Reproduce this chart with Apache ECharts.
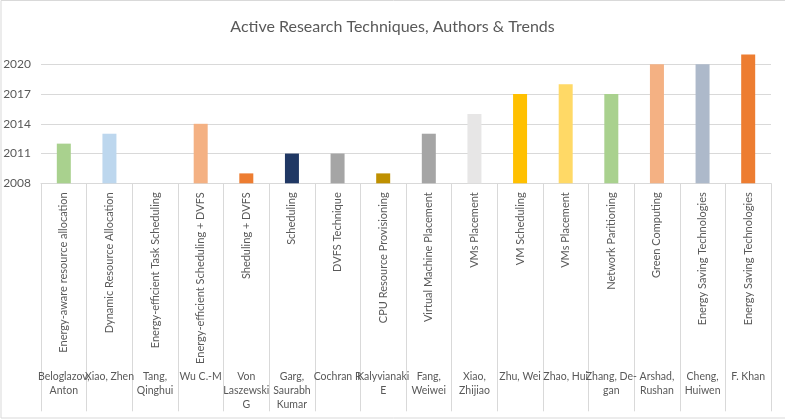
<!DOCTYPE html>
<html>
<head>
<meta charset="utf-8">
<script src="https://cdn.jsdelivr.net/npm/echarts@6/dist/echarts.min.js"></script>
<style>html,body{margin:0;padding:0;background:#fff}#c{width:785px;height:420px}</style>
</head>
<body>
<div id="c"></div>
<script>
const techniques = ["Energy-aware resource allocation","Dynamic Resource Allocation","Energy-efficient Task Scheduling","Energy-efficient Scheduling + DVFS","Sheduling + DVFS","Scheduling","DVFS Technique","CPU Resource Provisioning","Virtual Machine Placement","VMs Placement","VM Scheduling","VMs Placement","Network Paritioning","Green Computing","Energy Saving Technologies","Energy Saving Technologies"];
const authors = ["Beloglazov,\nAnton","Xiao, Zhen","Tang,\nQinghui","Wu C.-M","Von\nLaszewski\nG","Garg,\nSaurabh\nKumar","Cochran R","Kalyvianaki\nE","Fang,\nWeiwei","Xiao,\nZhijiao","Zhu, Wei","Zhao, Hui","Zhang, De-\ngan","Arshad,\nRushan","Cheng,\nHuiwen","F. Khan"];
const years = [2012,2013,2008,2014,2009,2011,2011,2009,2013,2015,2017,2018,2017,2020,2020,2021];
const barColors = ["#A9D18E","#BDD7EE","#BDD7EE","#F4B183","#ED7D31","#203864","#A5A5A5","#BF9000","#A5A5A5","#E7E6E6","#FFC000","#FFD966","#A9D18E","#F4B183","#ADB9CA","#ED7D31"];

const font = "Lato";
const chart = echarts.init(document.getElementById('c'));
chart.setOption({
  animation: false,
  textStyle: {fontFamily: font},
  title: {text: "Active Research Techniques, Authors & Trends", left: 'center', top: 14,
    textStyle: {fontFamily: font, fontSize: 16, fontWeight: 'normal', color: '#595959'}},
  graphic: [{type: 'rect', shape: {x: 1, y: 0.5, width: 800, height: 417.5}, style: {fill: 'none', stroke: '#D9D9D9', lineWidth: 1}, silent: true}],
  grid: {left: 41, right: 14, top: 54.4, bottom: 236.7},
  xAxis: [{
    type: 'category', data: techniques, position: 'bottom',
    axisLine: {lineStyle: {color: '#D9D9D9'}},
    axisTick: {show: true, interval: 0, length: 228, lineStyle: {color: '#D9D9D9'}},
    axisLabel: {interval: 0, rotate: 90, margin: 9, fontSize: 11, color: '#595959', fontFamily: font}
  }, {
    type: 'category', data: authors, position: 'bottom', offset: 186,
    axisLine: {show: false}, axisTick: {show: false},
    axisLabel: {interval: 0, margin: 0, fontSize: 10.5, lineHeight: 14, color: '#595959', fontFamily: font, verticalAlign: 'top'}
  }],
  yAxis: {
    type: 'value', min: 2008, max: 2021, interval: 3,
    axisLine: {show: false}, axisTick: {show: false},
    axisLabel: {showMaxLabel: false, fontSize: 12, color: '#595959', margin: 10, fontFamily: font, formatter: v => String(v)},
    splitLine: {showMaxLine: false, lineStyle: {color: '#D9D9D9'}}
  },
  series: [{
    type: 'bar', barWidth: 14, xAxisIndex: 0,
    data: years.map((v, i) => ({value: v, itemStyle: {color: barColors[i]}})),
  }]
});
</script>
</body>
</html>
